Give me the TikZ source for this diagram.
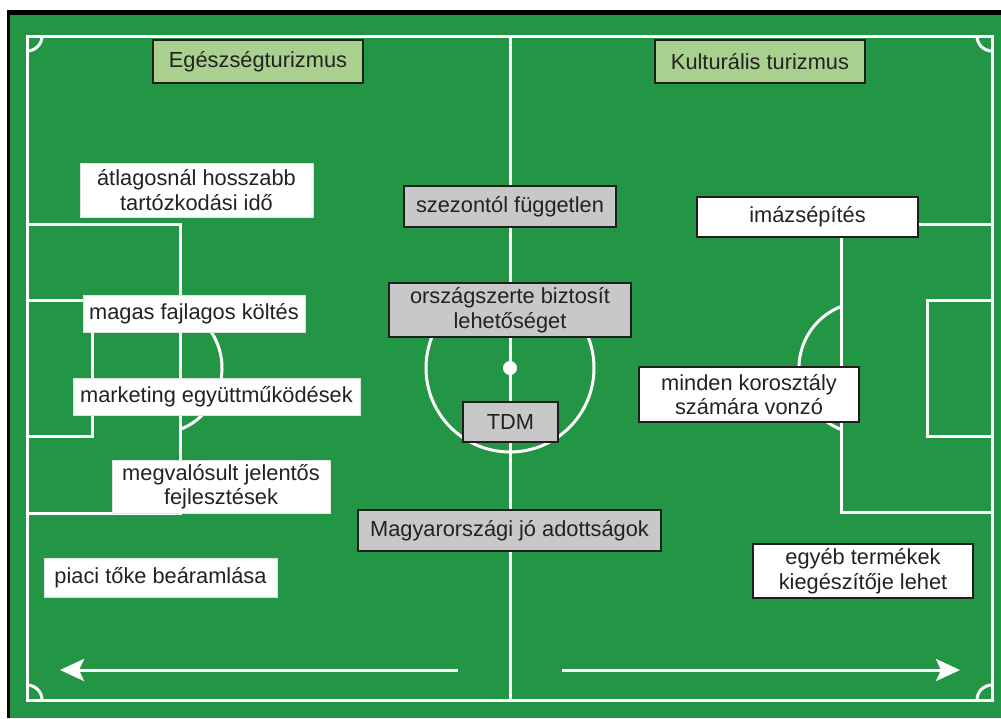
\documentclass[tikz,border=0pt]{standalone}
\usepackage{fontspec}
\setmainfont{Liberation Sans}
\usetikzlibrary{arrows.meta}
\definecolor{field}{RGB}{35,150,70}
\definecolor{lgreen}{RGB}{169,208,142}
\definecolor{lgray}{RGB}{200,200,200}
\definecolor{ink}{RGB}{34,34,34}
\definecolor{edge}{RGB}{30,30,30}
\begin{document}
\begin{tikzpicture}[x=1pt,y=-1pt,
  pitch/.style={draw=white, line width=3pt},
  box/.style={inner sep=0pt, font=\fontsize{21.8}{24.5}\selectfont, text=ink, align=center},
  greenbox/.style={box, fill=lgreen, draw=edge, line width=2.5pt},
  graybox/.style={box, fill=lgray, draw=edge, line width=2.5pt},
  plainbox/.style={box, fill=white, draw=black!12, line width=1pt},
  framebox/.style={box, fill=white, draw=edge, line width=2.5pt},
  dirarrow/.style={draw=white, line width=3pt, -{Stealth[length=24pt,width=22pt,inset=5pt]}}]
\useasboundingbox (0,0) rectangle (1001,718);
\fill[white] (0,0) rectangle (1001,718);
\fill[black] (7,10) rectangle (1001,718);
\fill[field] (10,15) rectangle (1001,718);
% pitch markings
\draw[pitch] (27,36) rectangle (992,700);
\draw[pitch] (510,36) -- (510,700);
\draw[pitch] (510,368) circle[radius=84];
\fill[white] (510,368) circle[radius=7];
\draw[pitch] (27,224) rectangle (180,513);
\draw[pitch] (27,300) rectangle (92,436);
\draw[pitch] (841,224) rectangle (992,512);
\draw[pitch] (927,300) rectangle (992,436);
\draw[pitch] (156,368) ++(-68.7:66) arc[start angle=-68.7,end angle=68.7,radius=66];
\draw[pitch] (865,368) ++(111.3:66) arc[start angle=111.3,end angle=248.7,radius=66];
\draw[pitch] (27,36) ++(0:15) arc[start angle=0,end angle=90,radius=15];
\draw[pitch] (992,36) ++(90:15) arc[start angle=90,end angle=180,radius=15];
\draw[pitch] (27,700) ++(-90:15) arc[start angle=-90,end angle=0,radius=15];
\draw[pitch] (992,700) ++(180:15) arc[start angle=180,end angle=270,radius=15];
% direction arrows
\coordinate (l0) at (458,670);
\coordinate (l1) at (60,670);
\coordinate (r0) at (562,670);
\coordinate (r1) at (960,670);
\draw[dirarrow] (l0) -- (l1);
\draw[dirarrow] (r0) -- (r1);
% boxes
\node[greenbox, minimum width=210, minimum height=43] (egesz) at (258,61.5) {Egészségturizmus};
\node[greenbox, minimum width=210, minimum height=43] (kult) at (760,61.5) {Kulturális turizmus};
\node[plainbox, minimum width=233, minimum height=54] (atlag) at (196.5,190) {átlagosnál hosszabb\\tartózkodási idő};
\node[plainbox, minimum width=222, minimum height=37] (magas) at (194,313.5) {magas fajlagos költés};
\node[plainbox, minimum width=287, minimum height=37] (mark) at (216.5,396.5) {marketing együttműködések};
\node[plainbox, minimum width=218, minimum height=53] (megv) at (221,486.5) {megvalósult jelentős\\fejlesztések};
\node[plainbox, minimum width=233, minimum height=39] (piaci) at (160.5,577.5) {piaci tőke beáramlása};
\node[graybox, minimum width=212, minimum height=41] (szez) at (510,206.5) {szezontól független};
\node[graybox, minimum width=242, minimum height=54] (orsz) at (510,310) {országszerte biztosít\\lehetőséget};
\node[graybox, minimum width=95, minimum height=40] (tdm) at (510.5,422) {TDM};
\node[graybox, minimum width=303, minimum height=41] (magy) at (509.5,530.5) {Magyarországi jó adottságok};
\node[framebox, minimum width=221, minimum height=40] (imazs) at (807.5,217) {imázsépítés};
\node[framebox, minimum width=220, minimum height=55] (mind) at (749,394.5) {minden korosztály\\számára vonzó};
\node[framebox, minimum width=220, minimum height=54] (egyeb) at (863,571) {egyéb termékek\\kiegészítője lehet};
\end{tikzpicture}
\end{document}
